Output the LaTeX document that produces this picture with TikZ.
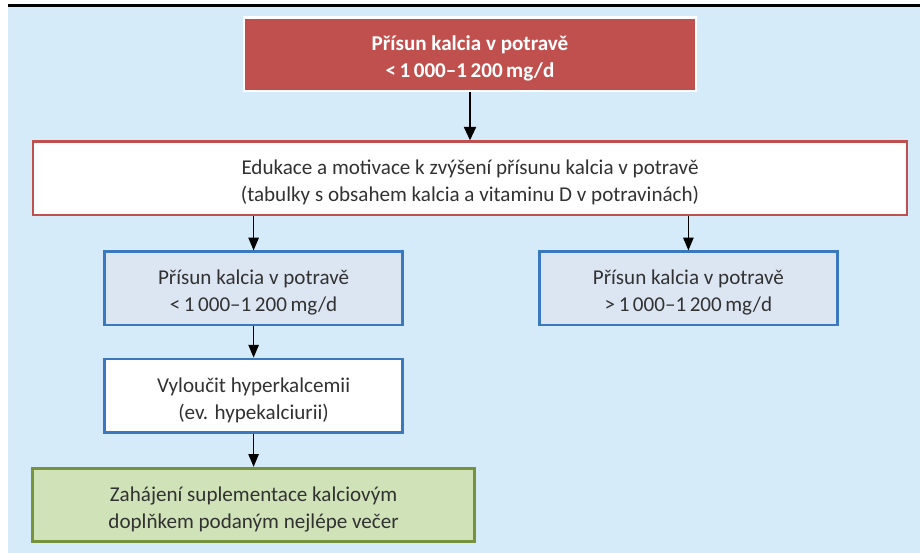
\documentclass[tikz,border=0pt]{standalone}
\usepackage{fontspec}
\setmainfont{Carlito}
\usetikzlibrary{arrows.meta, positioning}
\definecolor{panelfill}{RGB}{213,235,249}
\definecolor{titlefill}{RGB}{192,80,77}
\definecolor{stepdraw}{RGB}{58,121,190}
\definecolor{stepfill}{RGB}{220,230,243}
\definecolor{endfill}{RGB}{208,227,184}
\definecolor{enddraw}{RGB}{118,146,60}
\definecolor{textgray}{RGB}{50,50,50}
\tikzset{
    box/.style={
        rectangle, draw, line width=2pt, inner sep=0pt,
        text centered, align=center, text=textgray,
        text height=37pt, text depth=3.5pt,
        minimum height=1.83cm, font=\fontsize{15}{19.2}\selectfont
    },
    titlebox/.style={
        box, fill=titlefill, draw=white, text=white,
        minimum width=11.3cm, font=\fontsize{15}{19.2}\selectfont\bfseries
    },
    edubox/.style={box, fill=white, draw=titlefill, minimum width=21.85cm},
    intakebox/.style={box, fill=stepfill, draw=stepdraw, minimum width=7.45cm},
    checkbox/.style={box, fill=white, draw=stepdraw, minimum width=7.45cm},
    endbox/.style={box, fill=endfill, draw=enddraw, minimum width=11.05cm},
    connection/.style={draw=black, line width=1pt, -{Triangle[length=0.32cm, width=0.26cm]}},
    bigconnection/.style={draw=black, line width=1.6pt, -{Triangle[length=0.34cm, width=0.3cm]}}
}
\begin{document}
\begin{tikzpicture}

% Frame
\useasboundingbox (0,0) rectangle (23,-13.825);
\fill[panelfill] (0.2,-0.17) rectangle (23,-13.825);
\draw[line width=2pt] (0.2,-0.14) -- (23,-0.14);

% Title
\node[titlebox] (intake) at (11.75,-1.36) {Přísun kalcia v potravě\\<\,1\,000–1\,200\,mg/d};

% Education
\node[edubox, below=1.2cm of intake] (edu) {Edukace a motivace k zvýšení přísunu kalcia v potravě\\(tabulky s obsahem kalcia a vitaminu D v potravinách)};

% Two branches
\node[intakebox, below=0.85cm of edu, xshift=-5.41cm] (low) {Přísun kalcia v potravě\\<\,1\,000–1\,200\,mg/d};
\node[intakebox, below=0.85cm of edu, xshift=5.46cm] (high) {Přísun kalcia v potravě\\>\,1\,000–1\,200\,mg/d};

% Left branch
\node[checkbox, below=0.78cm of low] (exclude) {Vyloučit hyperkalcemii\\(ev. hypekalciurii)};
\node[endbox, below=0.83cm of exclude] (suppl) {Zahájení suplementace kalciovým\\doplňkem podaným nejlépe večer};

% Connections
\draw[bigconnection] (intake) -- (edu);
\draw[connection] (edu.south -| low.north) -- (low);
\draw[connection] (edu.south -| high.north) -- (high);
\draw[connection] (low) -- (exclude);
\draw[connection] (exclude) -- (suppl);

\end{tikzpicture}
\end{document}
